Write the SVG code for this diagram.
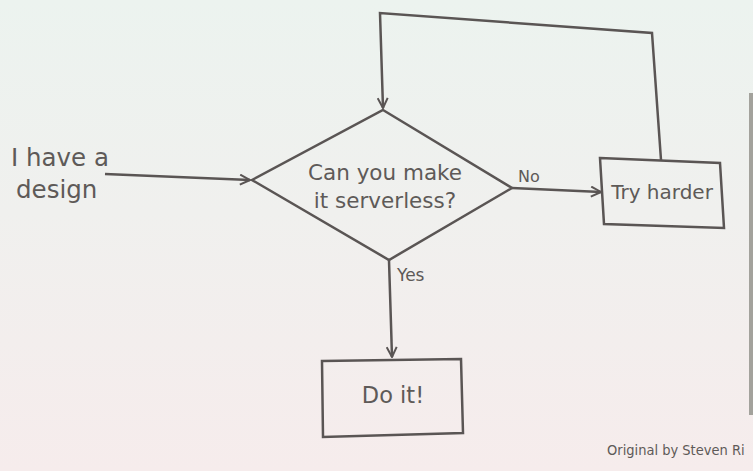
<svg xmlns="http://www.w3.org/2000/svg" width="753" height="471" viewBox="0 0 753 471">
<defs>
<linearGradient id="bg" x1="0" y1="0" x2="0" y2="1">
<stop offset="0" stop-color="#ecf3ef"/>
<stop offset="0.45" stop-color="#f0f0ee"/>
<stop offset="1" stop-color="#f6ecec"/>
</linearGradient>
<marker id="arr" viewBox="0 0 12 12" refX="11" refY="6" markerWidth="12" markerHeight="12" markerUnits="userSpaceOnUse" orient="auto">
<path d="M1,1 L11,6 L1,11" fill="none" stroke="#5a5554" stroke-width="2"/>
</marker>
<style>
.ln{fill:none;stroke:#5a5554;stroke-width:2.5;stroke-linejoin:miter}
.shape{fill:none;stroke:#5a5554;stroke-width:2.5}
.t{font-family:"DejaVu Sans","Open Sans",sans-serif;fill:#5e5a58}
.credit{font-family:"DejaVu Sans Condensed","DejaVu Sans",sans-serif;fill:#5e5a58;font-size:14.5px}
</style>
</defs>
<rect width="753" height="471" fill="url(#bg)"/>
<rect x="749" y="93" width="4" height="322" fill="#a3a29c"/>
<g id="start">
<text class="t" x="11" y="166" font-size="24.5">I have a</text>
<text class="t" x="16" y="198" font-size="24.5">design</text>
</g>
<g id="decision">
<polygon class="shape" points="383,110 512,188 389,260 252,180"/>
<text class="t" x="385" y="180" font-size="21.5" text-anchor="middle">Can you make</text>
<text class="t" x="385" y="208" font-size="21.5" text-anchor="middle">it serverless?</text>
</g>
<g id="try">
<polygon class="shape" points="600,158 720,163 724,228 604,224"/>
<text class="t" x="662" y="199" font-size="20" text-anchor="middle">Try harder</text>
</g>
<g id="doit">
<polygon class="shape" points="322,361 461,359 463,433 323,437"/>
<text class="t" x="393" y="403" font-size="22.5" text-anchor="middle">Do it!</text>
</g>
<g id="connectors">
<line class="ln" x1="105" y1="174" x2="250" y2="180" marker-end="url(#arr)"/>
<line class="ln" x1="512" y1="188" x2="601" y2="192" marker-end="url(#arr)"/>
<text class="t" x="518" y="182" font-size="16">No</text>
<line class="ln" x1="389" y1="260" x2="392" y2="357" marker-end="url(#arr)"/>
<text class="t" x="397" y="281" font-size="17">Yes</text>
<polyline class="ln" points="661,160 652,33 380,13 383,108" marker-end="url(#arr)"/>
</g>
<text class="credit" x="607" y="455">Original by Steven Ri</text>
</svg>
